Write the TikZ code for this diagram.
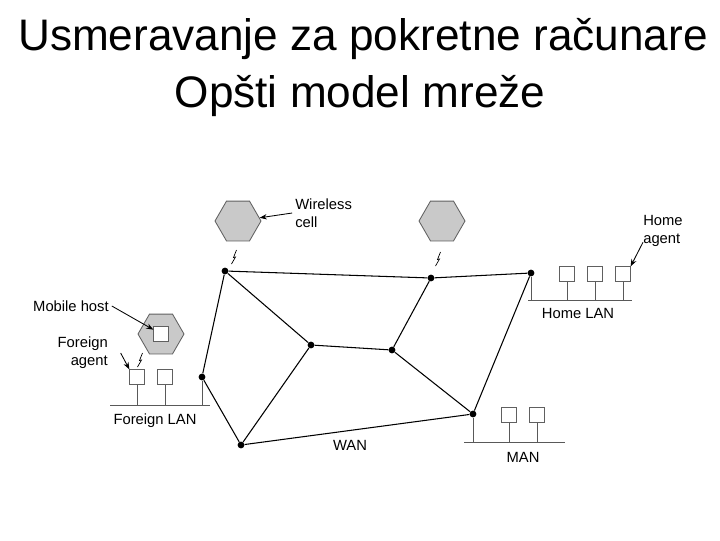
\documentclass[tikz,border=0pt]{standalone}
\usepackage{fontspec}
\setmainfont{Liberation Sans}
\usetikzlibrary{arrows.meta,shapes.geometric}
\tikzset{
  router/.style={circle,fill=black,inner sep=0pt,minimum size=0.17cm},
  cell/.style={regular polygon,regular polygon sides=6,draw=gray!75!black,fill=gray!42,inner sep=0pt,minimum size=1.15cm,line width=0.6pt},
  host/.style={rectangle,draw=gray!75!black,fill=white,inner sep=0pt,minimum size=0.36cm,line width=0.6pt},
  link/.style={line width=0.75pt},
  bus/.style={draw=gray!70!black,line width=0.7pt},
  pointer/.style={-{Stealth[length=1.8mm]},line width=0.6pt},
  lbl/.style={inner sep=0pt,font=\fontsize{10.5}{12.8}\selectfont},
  bolt/.pic={\draw[line width=0.5pt] (2.5,-7) -- (-0.5,0.5) -- (1.5,0) -- (-2.5,7);}
}

\begin{document}
\begin{tikzpicture}[x=0.025cm,y=-0.025cm]
  \useasboundingbox (0,0) rectangle (720,540);
  % title
  \node[anchor=base,inner sep=0pt,font=\fontsize{31.4}{40}\selectfont] (title1) at (363,50) {Usmeravanje za pokretne računare};
  \node[anchor=base,inner sep=0pt,font=\fontsize{31.4}{40}\selectfont] (title2) at (360,107) {Opšti model mreže};

  % wireless cells
  \node[cell] (cell1) at (238,221) {};
  \node[cell] (cell2) at (442,221) {};
  \node[cell] (cell3) at (161,334) {};
  \pic at (234,257) {bolt};
  \pic at (438,259) {bolt};
  \pic at (140,360) {bolt};

  % WAN routers
  \node[router] (A) at (225,271) {};
  \node[router] (B) at (431,278) {};
  \node[router] (C) at (531,273) {};
  \node[router] (D) at (311,345) {};
  \node[router] (E) at (392,350) {};
  \node[router] (F) at (202,377) {};
  \node[router] (G) at (241,445) {};
  \node[router] (H) at (473,414) {};
  \foreach \u/\v in {A/B,B/C,A/D,A/F,D/E,B/E,D/G,F/G,E/H,C/H,G/H}
    \draw[link] (\u) -- (\v);

  % foreign LAN
  \coordinate (fbusL) at (110,405);
  \coordinate (fbusR) at (210,405);
  \draw[bus] (fbusL) -- (fbusR);
  \node[host] (fa) at (137,377) {};
  \node[host] (fh) at (165,377) {};
  \node[host] (mh) at (161,334) {};
  \foreach \n in {fa,fh,F}
    \draw[bus] (\n) -- (\n |- fbusL);

  % home LAN
  \coordinate (hbusL) at (528,300);
  \coordinate (hbusR) at (632,300);
  \draw[bus] (hbusL) -- (hbusR);
  \node[host] (h1) at (567,274) {};
  \node[host] (h2) at (595,274) {};
  \node[host] (ha) at (623,274) {};
  \foreach \n in {h1,h2,ha,C}
    \draw[bus] (\n) -- (\n |- hbusL);

  % MAN
  \coordinate (mbusL) at (464,442);
  \coordinate (mbusR) at (565,442);
  \draw[bus] (mbusL) -- (mbusR);
  \node[host] (m1) at (509,415) {};
  \node[host] (m2) at (537,415) {};
  \foreach \n in {m1,m2,H}
    \draw[bus] (\n) -- (\n |- mbusL);

  % labels
  \node[lbl,anchor=west,align=left] (wcell) at (295,213) {Wireless\\cell};
  \node[lbl,anchor=west,align=left] (hagent) at (643,231) {Home\\agent};
  \node[lbl,anchor=east] (mhost) at (109,306) {Mobile host};
  \node[lbl,anchor=east,align=right] (fagent) at (108,353) {Foreign\\agent};
  \node[lbl] (flan) at (155,421) {Foreign LAN};
  \node[lbl] (hlan) at (578,313) {Home LAN};
  \node[lbl] (wan) at (350,445) {WAN};
  \node[lbl] (man) at (523,457) {MAN};

  \draw[pointer] ([xshift=-2pt]wcell.west) -- (cell1);
  \draw[pointer] ([yshift=-8pt]hagent.west) -- (ha.north east);
  \draw[pointer] ([xshift=2pt]mhost.east) -- (mh);
  \draw[pointer] ([xshift=9pt]fagent.east) -- (fa.north west);
\end{tikzpicture}
\end{document}
